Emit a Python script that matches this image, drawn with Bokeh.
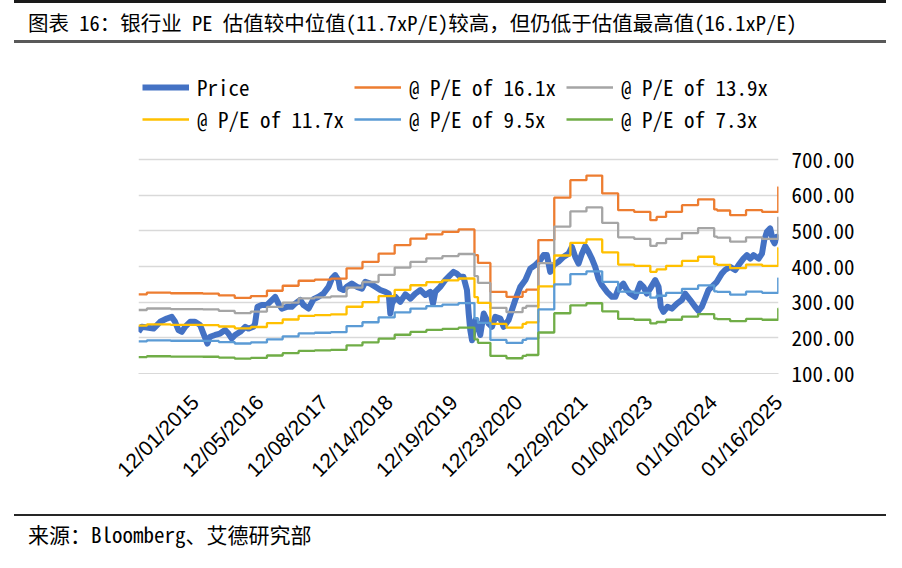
import pandas as pd
from math import pi
from bokeh.plotting import figure
from bokeh.layouts import column
from bokeh.models import (Range1d, FixedTicker, DatetimeTickFormatter, NumeralTickFormatter,
                          Legend, LegendItem, Div)
from bokeh.embed import file_html
from bokeh.resources import INLINE

# ---------------- data ----------------
price_dates = [
    "2015-01-12", "2015-01-31", "2015-03-01", "2015-04-08", "2015-05-16", "2015-06-23", "2015-07-21",
    "2015-08-09", "2015-08-28", "2015-09-17", "2015-10-05", "2015-11-03", "2015-12-01", "2015-12-30",
    "2016-01-18", "2016-02-10", "2016-02-25", "2016-03-25", "2016-04-22", "2016-05-21", "2016-06-09",
    "2016-06-28", "2016-07-17", "2016-08-15", "2016-09-13", "2016-10-01", "2016-10-30", "2016-11-08",
    "2016-11-22", "2016-12-16", "2017-01-14", "2017-02-12", "2017-03-03", "2017-03-22", "2017-04-10",
    "2017-05-09", "2017-06-06", "2017-06-25", "2017-07-24", "2017-08-12", "2017-09-10", "2017-10-08",
    "2017-11-06", "2017-12-04", "2018-01-02", "2018-01-21", "2018-02-09", "2018-02-28", "2018-03-09",
    "2018-03-28", "2018-04-16", "2018-05-15", "2018-06-13", "2018-07-12", "2018-07-31", "2018-08-29",
    "2018-09-26", "2018-10-25", "2018-11-23", "2018-12-12", "2018-12-21", "2018-12-31", "2019-01-19",
    "2019-02-16", "2019-03-17", "2019-04-15", "2019-05-13", "2019-06-11", "2019-07-10", "2019-08-07",
    "2019-08-22", "2019-09-04", "2019-10-02", "2019-10-31", "2019-11-28", "2019-12-17", "2020-01-05",
    "2020-01-24", "2020-02-12", "2020-03-03", "2020-03-13", "2020-03-22", "2020-04-01", "2020-04-20",
    "2020-05-09", "2020-05-18", "2020-06-07", "2020-06-16", "2020-07-05", "2020-07-24", "2020-08-12",
    "2020-09-10", "2020-09-29", "2020-10-27", "2020-11-15", "2020-12-04", "2021-01-02", "2021-01-31",
    "2021-02-28", "2021-03-28", "2021-04-26", "2021-05-15", "2021-06-03", "2021-06-22", "2021-07-11",
    "2021-08-08", "2021-09-06", "2021-10-05", "2021-10-24", "2021-11-12", "2021-12-01", "2021-12-20",
    "2022-01-08", "2022-01-27", "2022-02-15", "2022-03-06", "2022-03-25", "2022-04-13", "2022-05-12",
    "2022-06-10", "2022-06-29", "2022-07-17", "2022-08-14", "2022-09-03", "2022-09-22", "2022-10-20",
    "2022-11-18", "2022-12-07", "2022-12-26", "2023-01-14", "2023-02-12", "2023-03-03", "2023-03-16",
    "2023-03-31", "2023-04-23", "2023-05-18", "2023-06-16", "2023-07-14", "2023-08-02", "2023-08-31",
    "2023-09-28", "2023-10-17", "2023-11-05", "2023-11-24", "2023-12-13", "2024-01-11", "2024-01-30",
    "2024-02-27", "2024-03-17", "2024-04-15", "2024-05-14", "2024-06-02", "2024-06-30", "2024-07-20",
    "2024-08-08", "2024-08-27", "2024-09-25", "2024-10-14", "2024-10-27", "2024-11-11", "2024-11-30",
    "2024-12-15", "2024-12-25", "2025-01-07", "2025-01-16",
]
price_values = [
    217, 231, 229, 226, 245, 254, 259,
    245, 222, 217, 231, 245, 245, 236,
    212, 184, 203, 208, 212, 222, 212,
    198, 208, 217, 231, 226, 231, 240,
    287, 292, 292, 306, 315, 296, 282,
    287, 287, 296, 306, 292, 282, 308,
    315, 324, 343, 366, 376, 362, 338,
    334, 343, 352, 343, 338, 357, 352,
    343, 334, 329, 324, 268, 296, 315,
    301, 322, 310, 324, 334, 320, 329,
    296, 329, 343, 362, 376, 385, 380,
    371, 371, 334, 268, 222, 193, 250,
    231, 208, 268, 259, 240, 231, 259,
    254, 231, 250, 278, 306, 343, 362,
    394, 404, 418, 432, 432, 385, 404,
    413, 427, 436, 455, 427, 408, 436,
    457, 441, 422, 399, 366, 348, 329,
    315, 315, 338, 352, 334, 324, 315,
    352, 343, 324, 338, 362, 343, 287,
    273, 287, 282, 296, 306, 324, 306,
    287, 276, 287, 310, 334, 348, 357,
    380, 390, 399, 390, 404, 422, 432,
    422, 432, 422, 436, 474, 497, 507,
    474, 465, 483, 479,
]

band_dates = [
    "2015-01-12", "2015-03-01", "2015-07-15", "2016-01-15", "2016-04-15", "2016-07-15", "2016-10-15",
    "2017-01-15", "2017-04-15", "2017-07-15", "2017-10-15", "2018-01-15", "2018-04-15", "2018-07-15",
    "2018-10-15", "2019-01-15", "2019-04-15", "2019-07-15", "2019-10-15", "2020-01-15", "2020-04-15",
    "2020-05-05", "2020-07-15", "2020-10-15", "2021-01-15", "2021-02-05", "2021-04-15", "2021-07-15",
    "2021-10-15", "2022-01-15", "2022-04-15", "2022-07-15", "2022-10-15", "2023-01-15", "2023-02-20",
    "2023-04-15", "2023-07-15", "2023-10-15", "2024-01-15", "2024-02-01", "2024-04-15", "2024-07-15",
    "2024-10-15", "2025-01-15", "2025-01-16",
]
pe_161 = [322, 327, 325, 324, 319, 312, 317, 332, 346, 360, 363, 366, 395, 413, 436, 460, 478, 490,
          497, 504, 432, 410, 329, 315, 329, 335, 474, 593, 642, 655, 605, 558, 553, 530, 539, 553,
          572, 588, 560, 557, 544, 558, 553, 623, 623]
pe_139 = [278.0, 282.3, 280.6, 279.7, 275.4, 269.4, 273.7, 286.6, 298.7, 310.8, 313.4, 316.0, 341.0,
          356.6, 376.4, 397.1, 412.7, 423.0, 429.1, 435.1, 373.0, 354.0, 284.0, 272.0, 284.0, 289.2,
          409.2, 512.0, 554.3, 565.5, 522.3, 481.7, 477.4, 457.6, 465.3, 477.4, 493.8, 507.6, 483.5,
          480.9, 469.7, 481.7, 477.4, 537.9, 537.9]
pe_117 = [234.0, 237.6, 236.2, 235.5, 231.8, 226.7, 230.4, 241.3, 251.4, 261.6, 263.8, 266.0, 287.1,
          300.1, 316.8, 334.3, 347.4, 356.1, 361.2, 366.3, 313.9, 298.0, 239.1, 228.9, 239.1, 243.4,
          344.5, 430.9, 466.5, 476.0, 439.7, 405.5, 401.9, 385.2, 391.7, 401.9, 415.7, 427.3, 407.0,
          404.8, 395.3, 405.5, 401.9, 452.7, 452.7]
pe_95 = [190.0, 193.0, 191.8, 191.2, 188.2, 184.1, 187.1, 195.9, 204.2, 212.4, 214.2, 216.0, 233.1,
         243.7, 257.3, 271.4, 282.0, 289.1, 293.3, 297.4, 254.9, 241.9, 194.1, 185.9, 194.1, 197.7,
         279.7, 349.9, 378.8, 386.5, 357.0, 329.3, 326.3, 312.7, 318.0, 326.3, 337.5, 347.0, 330.4,
         328.7, 321.0, 329.3, 326.3, 367.6, 367.6]
pe_73 = [146.0, 148.3, 147.4, 146.9, 144.6, 141.5, 143.7, 150.5, 156.9, 163.2, 164.6, 166.0, 179.1,
         187.3, 197.7, 208.6, 216.7, 222.2, 225.3, 228.5, 195.9, 185.9, 149.2, 142.8, 149.2, 151.9,
         214.9, 268.9, 291.1, 297.0, 274.3, 253.0, 250.7, 240.3, 244.4, 250.7, 259.4, 266.6, 253.9,
         252.6, 246.7, 253.0, 250.7, 282.5, 282.5]

series_labels = ["Price", "@ P/E of 16.1x", "@ P/E of 13.9x", "@ P/E of 11.7x", "@ P/E of 9.5x", "@ P/E of 7.3x"]
tick_dates = ["2015-12-01", "2016-12-05", "2017-12-08", "2018-12-14", "2019-12-19",
              "2020-12-23", "2021-12-29", "2023-01-04", "2024-01-10", "2025-01-16"]
y_ticks = [100, 200, 300, 400, 500, 600, 700]

title_text = "图表 16：银行业 PE 估值较中位值(11.7xP/E)较高，但仍低于估值最高值(16.1xP/E)"
source_text = "来源：Bloomberg、艾德研究部"

# ---------------- styling ----------------
MONO = "Noto Sans Mono CJK SC, DejaVu Sans Mono, monospace"
CSS_FONT = "'Noto Sans Mono CJK SC', 'Noto Sans CJK SC', sans-serif"
colors = ["#4472C4", "#ED7D31", "#A5A5A5", "#FFC000", "#5B9BD5", "#70AD47"]

px = pd.to_datetime(price_dates)
bx = pd.to_datetime(band_dates)

# plot frame is extended upward (no grid above 700) so that the legend sits inside it
FRAME_H = 318
y_top = 100 + FRAME_H * 600 / 214

p = figure(width=886, height=467, output_backend="svg", toolbar_location=None,
           x_axis_type="datetime",
           x_range=Range1d(pd.Timestamp("2015-01-12"), pd.Timestamp("2025-01-16 12:00")),
           y_range=Range1d(100, y_top), y_axis_location="right",
           min_border_left=138, min_border_right=108, min_border_top=10, min_border_bottom=139)
p.background_fill_color = "white"
p.border_fill_color = "white"
p.outline_line_color = None

r_price = p.line(px, price_values, line_width=6, color=colors[0], line_join="round")
band_vals = [pe_161, pe_139, pe_117, pe_95, pe_73]
band_rs = []
for vals, c in zip(band_vals, colors[1:]):
    band_rs.append(p.step(bx, vals, mode="after", line_width=2.3, color=c))

# axes
p.xgrid.visible = False
yt = FixedTicker(ticks=y_ticks)
p.yaxis.ticker = yt
p.ygrid.ticker = yt
p.ygrid.grid_line_color = "#D9D9D9"
p.ygrid.grid_line_width = 1.3
p.yaxis.formatter = NumeralTickFormatter(format="0.00")
p.yaxis.axis_line_color = None
p.yaxis.major_tick_line_color = None
p.yaxis.minor_tick_line_color = None
p.yaxis.major_label_standoff = 7
p.yaxis.major_label_text_font = MONO
p.yaxis.major_label_text_font_size = "21px"
p.yaxis.major_label_text_color = "#000000"

p.xaxis.ticker = FixedTicker(ticks=[pd.Timestamp(d).timestamp() * 1000 for d in tick_dates])
fmt = "%m/%d/%Y"
p.xaxis.formatter = DatetimeTickFormatter(milliseconds=fmt, seconds=fmt, minsec=fmt, minutes=fmt,
                                          hourmin=fmt, hours=fmt, days=fmt, months=fmt, years=fmt,
                                          strip_leading_zeros=False)
p.xaxis.major_label_orientation = pi / 4
p.xaxis.axis_line_color = "#D9D9D9"
p.xaxis.major_tick_line_color = None
p.xaxis.minor_tick_line_color = None
p.xaxis.major_label_standoff = 19
p.xaxis.major_label_text_font = "Liberation Sans"
p.xaxis.major_label_text_font_size = "21px"
p.xaxis.major_label_text_color = "#000000"

# legend
items = [LegendItem(label=series_labels[0], renderers=[r_price])]
for lab, r in zip(series_labels[1:], band_rs):
    items.append(LegendItem(label=lab, renderers=[r]))
legend = Legend(items=items, location=(4, 239), orientation="horizontal", ncols=3,
                glyph_width=47, glyph_height=22, label_height=22, label_width=155,
                label_standoff=8, spacing=2,
                padding=0, margin=0, border_line_color=None, background_fill_alpha=0,
                label_text_font=MONO, label_text_font_size="21px", label_text_color="#000000")
p.add_layout(legend, "center")

# title and source blocks with their rules
top_div = Div(width=886, height=45, margin=0, text=(
    '<div style="position:relative;width:886px;height:45px;border-top:3px solid #1A1A1A;'
    'box-sizing:border-box;margin-left:14px;width:872px;">'
    f'<div style="position:absolute;left:14px;top:2px;height:35px;line-height:35px;white-space:nowrap;'
    f'font-family:{CSS_FONT};font-size:20.5px;color:#000;">{title_text}</div>'
    '<div style="position:absolute;left:0px;top:37px;width:872px;height:3px;background:#595959;"></div>'
    '</div>'))
bottom_div = Div(width=886, height=40, margin=0, text=(
    '<div style="position:relative;width:886px;height:40px;">'
    '<div style="position:absolute;left:14px;top:2px;width:872px;height:2px;background:#262626;"></div>'
    f'<div style="position:absolute;left:28px;top:4px;height:36px;line-height:36px;white-space:nowrap;'
    f'font-family:{CSS_FONT};font-size:21px;color:#000;">{source_text}</div>'
    '</div>'))

layout = column(top_div, p, bottom_div, spacing=0)
open("out.html", "w").write(file_html(layout, INLINE))
